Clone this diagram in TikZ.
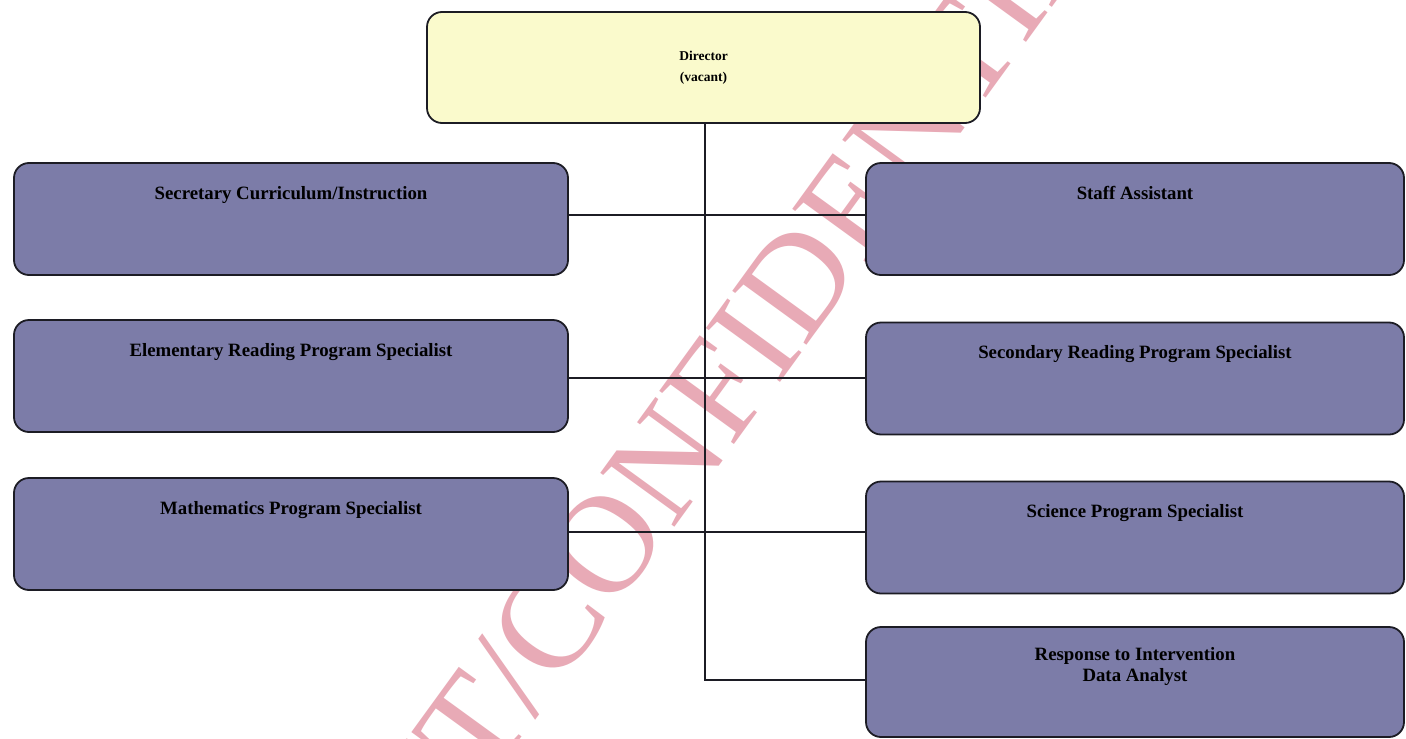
\documentclass[tikz,border=0pt]{standalone}
\usepackage{fontspec}
\setmainfont{Liberation Serif}
\definecolor{boxfill}{RGB}{124,124,168}
\definecolor{headfill}{RGB}{250,250,204}
\definecolor{edge}{RGB}{28,28,36}
\definecolor{stamp}{RGB}{232,170,182}
\begin{document}
\begin{tikzpicture}[x=1pt,y=-1pt,
  unit/.style={draw=edge, line width=1.8pt, rounded corners=15pt, fill=boxfill,
    minimum width=554pt, minimum height=112pt, inner sep=0pt},
  runit/.style={unit, minimum width=538pt},
  headbox/.style={unit, fill=headfill, minimum width=553pt, minimum height=111pt,
    font=\bfseries\fontsize{13.5}{21}\selectfont, align=center},
  caption/.style={anchor=north, yshift=-24pt, inner sep=0pt,
    font=\bfseries\fontsize{18.8}{21}\selectfont, align=center},
  link/.style={draw=edge, line width=1.4pt},
  watermark/.style={text=stamp, font=\fontsize{140}{140}\selectfont, inner sep=0pt}]

% page area
\useasboundingbox (0,0) rectangle (1406,739);
\fill[white] (0,0) rectangle (1406,739);
\clip (0,0) rectangle (1406,739);

% diagonal stamp behind the chart
\node[watermark, rotate=54, anchor=base west] (stamp) at (265,1091) {DRAFT/CONFIDENTIAL};

% head of the unit
\node[headbox] (dir) at (703.5,67.5) {\raisebox{0pt}{Director}\\(vacant)};

% left column
\node[unit, label={[caption]north:Secretary Curriculum/Instruction}] (sec) at (291,219) {};
\node[unit, label={[caption]north:Elementary Reading Program Specialist}] (elem) at (291,376) {};
\node[unit, label={[caption]north:Mathematics Program Specialist}] (math) at (291,534) {};

% right column
\node[runit, label={[caption]north:Staff Assistant}] (staff) at (1135,219) {};
\node[runit, label={[caption]north:Secondary Reading Program Specialist}] (secr) at (1135,378.5) {};
\node[runit, label={[caption]north:Science Program Specialist}] (sci) at (1135,537.5) {};
\node[runit, minimum height=110pt, label={[caption, yshift=3pt]north:Response to Intervention\\Data Analyst}] (rti) at (1135,682) {};

% reporting lines
\coordinate (j1) at (705,215);
\coordinate (j2) at (705,378);
\coordinate (j3) at (705,532);
\coordinate (j4) at (705,680);
\draw[link] (dir.south -| j1) -- (j4) -- (rti.west |- j4);
\draw[link] (sec.east |- j1) -- (staff.west |- j1);
\draw[link] (elem.east |- j2) -- (secr.west |- j2);
\draw[link] (math.east |- j3) -- (sci.west |- j3);
\end{tikzpicture}
\end{document}
